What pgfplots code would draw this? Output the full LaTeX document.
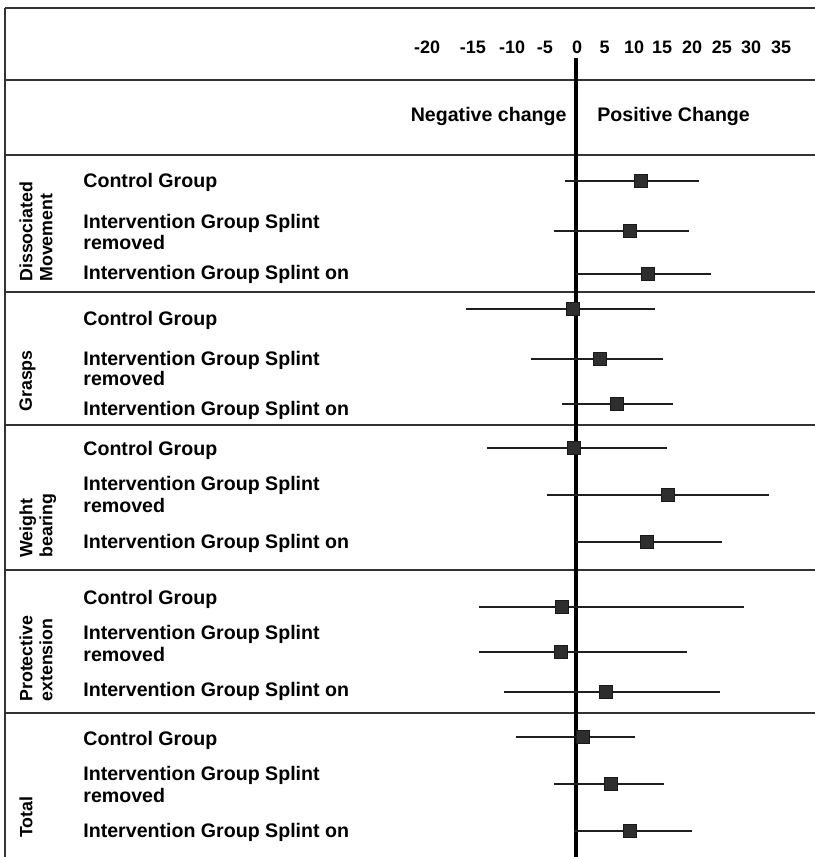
\documentclass[border=0pt]{standalone}
\usepackage{fontspec}
\setmainfont{Liberation Sans}
\usepackage{pgfplots}
\pgfplotsset{compat=1.18}
\usepackage{pgfplotstable}

% y = row position (pixels from top), m = mean change, lo/hi = interval ends
\pgfplotstableread{
y   m     lo     hi
181 11.1  -1.9   21.0
231  9.2  -3.8   19.3
274 12.3   0.0   23.0
309 -0.5 -18.8   13.5
359  4.1  -7.7   14.8
404  7.0  -2.4   16.6
448 -0.3 -15.2   15.5
495 15.7  -4.9   32.9
542 12.1   0.0   24.9
607 -2.4 -16.6   28.7
652 -2.6 -16.6   18.9
692  5.1 -12.3   24.6
737  1.2 -10.2   10.1
784  6.0  -3.8   15.0
831  9.2  -0.3   19.8
}\forestdata

\begin{document}
\begin{tikzpicture}
\begin{axis}[
  scale only axis, width=407.5pt, height=428.5pt,
  xmin=-98.29, xmax=40.78, ymin=0, ymax=857, y dir=reverse,
  hide axis, clip=false,
]
% table rules
\draw[line width=0.8pt, black!80] (axis cs:-97.44,8) -- (axis cs:40.78,8);
\draw[line width=0.8pt, black!80] (axis cs:-97.44,8) -- (axis cs:-97.44,857);
\draw[line width=0.9pt, black!80] (axis cs:-97.44,80) -- (axis cs:40.78,80);
\draw[line width=0.9pt, black!80] (axis cs:-97.44,155) -- (axis cs:40.78,155);
\draw[line width=0.9pt, black!80] (axis cs:-97.44,292) -- (axis cs:40.78,292);
\draw[line width=0.9pt, black!80] (axis cs:-97.44,425) -- (axis cs:40.78,425);
\draw[line width=0.9pt, black!80] (axis cs:-97.44,570) -- (axis cs:40.78,570);
\draw[line width=0.9pt, black!80] (axis cs:-97.44,713) -- (axis cs:40.78,713);
% zero line
\addplot[line width=2pt, black, forget plot] coordinates {(0,58) (0,857)};

% tick labels
\begin{scope}[every node/.style={font=\fontsize{9}{10}\selectfont\bfseries, inner sep=0pt}]
\node at (axis cs:-25.4,47) {-20};
\node at (axis cs:-17.6,47) {-15};
\node at (axis cs:-10.9,47) {-10};
\node at (axis cs:-5.3,47) {-5};
\node at (axis cs:0.2,47) {0};
\node at (axis cs:4.9,47) {5};
\node at (axis cs:9.9,47) {10};
\node at (axis cs:14.7,47) {15};
\node at (axis cs:19.8,47) {20};
\node at (axis cs:24.9,47) {25};
\node at (axis cs:29.9,47) {30};
\node at (axis cs:35.0,47) {35};
\end{scope}

% header
\begin{scope}[every node/.style={font=\fontsize{9.8}{11}\selectfont\bfseries, inner sep=0pt, text height=0.716em, text depth=0pt}]
\node[anchor=east] at (axis cs:-1.54,114) {Negative change};
\node[anchor=west] at (axis cs:3.58,114) {Positive Change};
\end{scope}

% row labels
\begin{scope}[every node/.style={font=\fontsize{9.8}{11}\selectfont\bfseries, inner sep=0pt, anchor=west, text height=0.716em, text depth=0pt}]
\node at (axis cs:-84.13,180) {Control Group};
\node at (axis cs:-84.13,221) {Intervention Group Splint};
\node at (axis cs:-84.13,242) {removed};
\node at (axis cs:-84.13,272) {Intervention Group Splint on};
\node at (axis cs:-84.13,318) {Control Group};
\node at (axis cs:-84.13,358) {Intervention Group Splint};
\node at (axis cs:-84.13,378) {removed};
\node at (axis cs:-84.13,408) {Intervention Group Splint on};
\node at (axis cs:-84.13,448) {Control Group};
\node at (axis cs:-84.13,483) {Intervention Group Splint};
\node at (axis cs:-84.13,505) {removed};
\node at (axis cs:-84.13,541) {Intervention Group Splint on};
\node at (axis cs:-84.13,597) {Control Group};
\node at (axis cs:-84.13,632) {Intervention Group Splint};
\node at (axis cs:-84.13,654) {removed};
\node at (axis cs:-84.13,689) {Intervention Group Splint on};
\node at (axis cs:-84.13,738) {Control Group};
\node at (axis cs:-84.13,773) {Intervention Group Splint};
\node at (axis cs:-84.13,795) {removed};
\node at (axis cs:-84.13,830) {Intervention Group Splint on};
\end{scope}

% section labels
\begin{scope}[every node/.style={font=\fontsize{8.9}{10}\selectfont\bfseries, inner sep=0pt, rotate=90, anchor=north west, align=left}]
\node at (axis cs:-95.05,282) {Dissociated\\Movement};
\node at (axis cs:-95.05,412) {Grasps};
\node at (axis cs:-95.05,558) {Weight\\bearing};
\node at (axis cs:-95.05,702) {Protective\\extension};
\node at (axis cs:-95.05,838) {Total};
\end{scope}

% intervals and means
\addplot[only marks, mark=square*, mark size=3.25pt,
  mark options={fill=black!82, draw=black!90, line width=0.4pt, rounded corners=1pt},
  error bars/.cd, x dir=both, x explicit, error mark=none,
  error bar style={line width=1pt, black!88}]
  table[x=m, y=y,
    x error plus expr=\thisrow{hi}-\thisrow{m},
    x error minus expr=\thisrow{m}-\thisrow{lo}] {\forestdata};
\end{axis}
\pgfresetboundingbox
\path (current axis.south west) rectangle (current axis.north east);
\end{tikzpicture}
\end{document}
